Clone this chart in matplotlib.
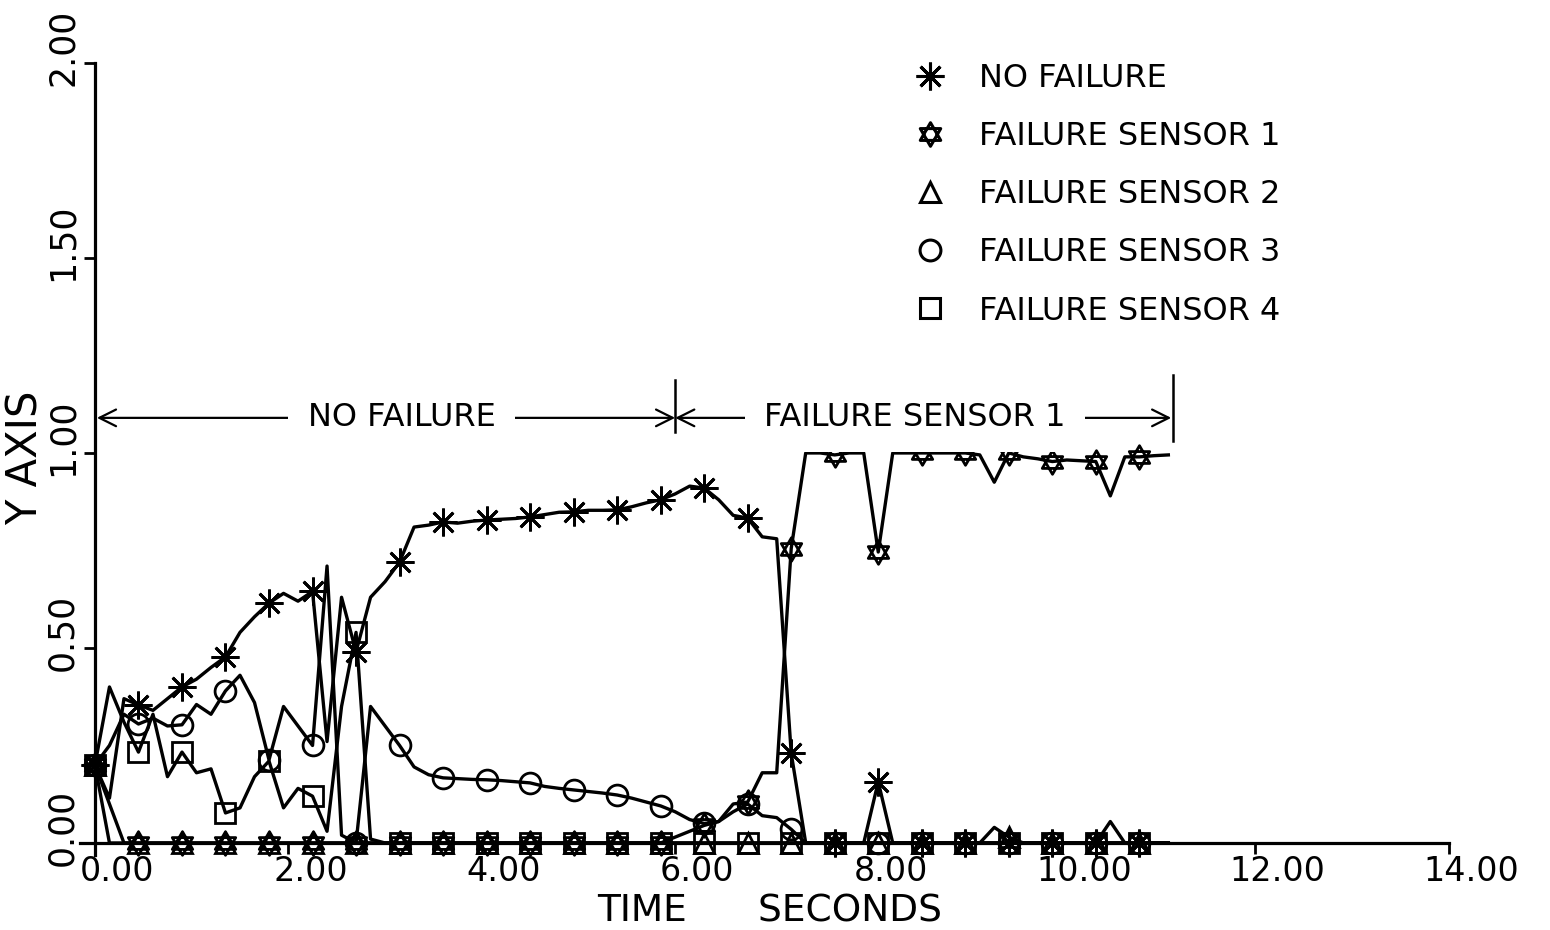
import numpy as np
import matplotlib
matplotlib.use('Agg')
import matplotlib.pyplot as plt
from matplotlib.path import Path
from matplotlib.lines import Line2D
import matplotlib.transforms as mtransforms

# sampled every 0.15 s, a marker drawn every 3rd sample
DT = 0.15

no_failure = [0.20, 0.115, 0.37, 0.354, 0.34, 0.37, 0.40, 0.42, 0.45, 0.477,
              0.54, 0.58, 0.615, 0.64, 0.62, 0.645, 0.26, 0.63, 0.49, 0.63,
              0.67, 0.72, 0.81, 0.815, 0.823, 0.82, 0.825, 0.828, 0.83, 0.832,
              0.836, 0.842, 0.848, 0.849, 0.853, 0.853, 0.854, 0.862, 0.872, 0.88,
              0.895, 0.915, 0.91, 0.88, 0.84, 0.833, 0.785, 0.78, 0.23, 0.0,
              0.0, 0.0, 0.0, 0.0, 0.157] + [0.0] * 20

sensor1 = [0.20, 0.0] + [0.0] * 38 + \
          [0.015, 0.03, 0.045, 0.055, 0.10, 0.105, 0.18, 0.18, 0.755, 1.0,
           1.0, 0.995, 1.0, 1.0, 0.746, 1.0, 1.0, 1.0, 1.0, 1.0,
           1.0, 0.995, 0.925, 1.0, 0.99, 0.985, 0.978, 0.982, 0.98, 0.978,
           0.89, 0.99, 0.99, 0.993, 0.995]

sensor2 = [0.20, 0.10] + [0.0] * 60 + [0.04, 0.015] + [0.0] * 6 + [0.055] + [0.0] * 4

sensor3 = [0.20, 0.25, 0.33, 0.305, 0.32, 0.30, 0.303, 0.355, 0.33, 0.39,
           0.43, 0.36, 0.213, 0.35, 0.30, 0.25, 0.71, 0.02, 0.0, 0.35,
           0.30, 0.25, 0.195, 0.175, 0.167, 0.165, 0.163, 0.162, 0.16, 0.157,
           0.154, 0.145, 0.14, 0.136, 0.132, 0.128, 0.123, 0.115, 0.105, 0.095,
           0.08, 0.06, 0.05, 0.055, 0.08, 0.10, 0.07, 0.065, 0.035, 0.0] + [0.0] * 25

sensor4 = [0.20, 0.40, 0.31, 0.233, 0.33, 0.17, 0.233, 0.18, 0.19, 0.077,
           0.09, 0.17, 0.21, 0.09, 0.14, 0.12, 0.03, 0.35, 0.54, 0.01,
           0.0] + [0.0] * 54

labels = ['NO FAILURE', 'FAILURE SENSOR 1', 'FAILURE SENSOR 2',
          'FAILURE SENSOR 3', 'FAILURE SENSOR 4']
xticks = [0, 2, 4, 6, 8, 10, 12, 14]
yticks = [0.0, 0.5, 1.0, 1.5, 2.0]

time = np.arange(len(no_failure)) * DT

# star of david marker
hexagram = Path([(0, 1), (-0.866, -0.5), (0.866, -0.5), (0, 1),
                 (0, -1), (-0.866, 0.5), (0.866, 0.5), (0, -1)],
                [Path.MOVETO, Path.LINETO, Path.LINETO, Path.CLOSEPOLY,
                 Path.MOVETO, Path.LINETO, Path.LINETO, Path.CLOSEPOLY])

styles = [((8, 2, 0), 20), (hexagram, 17), ('^', 14), ('o', 15), ('s', 14)]
series = [no_failure, sensor1, sensor2, sensor3, sensor4]

plt.rcParams['font.family'] = ['DejaVu Sans']

fig = plt.figure(figsize=(15.5, 9.3), dpi=100)
ax = fig.add_axes([0.0519, 0.081, 0.8828, 0.8513])

for vals, (mk, ms) in zip(series, styles):
    ax.plot(time, vals, color='black', lw=2.4, marker=mk, ms=ms,
            mfc='none', mec='black', mew=2.0, markevery=3, clip_on=False)

ax.set_xlim(-0.15, 14.0)
ax.set_ylim(-0.03, 2.0)

for s in ['top', 'right']:
    ax.spines[s].set_visible(False)
ax.spines['left'].set_position(('data', 0))
ax.spines['bottom'].set_position(('data', 0))
ax.spines['left'].set_linewidth(2.3)
ax.spines['bottom'].set_linewidth(2.3)

ax.set_xticks(xticks)
ax.set_xticklabels(['%.2f' % v for v in xticks], fontsize=24)
ax.set_yticks(yticks)
ax.set_yticklabels(['%.2f' % v for v in yticks], fontsize=25, rotation=90, va='center')
ax.tick_params(direction='out', length=8, width=2, colors='black')
ax.tick_params(axis='x', pad=1)
ax.tick_params(axis='y', pad=3)

dx = mtransforms.ScaledTranslation(0.22, 0, fig.dpi_scale_trans)
for lbl in ax.get_xticklabels():
    lbl.set_transform(lbl.get_transform() + dx)
dy = mtransforms.ScaledTranslation(0, 0.16, fig.dpi_scale_trans)
for lbl in ax.get_yticklabels():
    lbl.set_transform(lbl.get_transform() + dy)

fig.text(26 / 1550, 1 - 458 / 930, 'Y AXIS', rotation=90, ha='center', va='center', fontsize=30)
fig.text(770 / 1550, 1 - 911 / 930, 'TIME      SECONDS', ha='center', va='center', fontsize=27)

# region arrows
arr = dict(arrowstyle='<->', lw=1.6, color='black', shrinkA=0, shrinkB=0, mutation_scale=30)
ax.annotate('', xy=(0.02, 1.09), xytext=(6.0, 1.09), arrowprops=arr)
ax.annotate('', xy=(6.0, 1.09), xytext=(11.13, 1.09), arrowprops=arr)
box = dict(boxstyle='square,pad=0.6', fc='white', ec='none')
ax.text(3.17, 1.092, 'NO FAILURE', ha='center', va='center', fontsize=23, bbox=box)
ax.text(8.48, 1.092, 'FAILURE SENSOR 1', ha='center', va='center', fontsize=23, bbox=box)
ax.plot([6.0, 6.0], [1.054, 1.187], color='black', lw=1.8)
ax.plot([11.15, 11.15], [1.03, 1.20], color='black', lw=1.8)

handles = [Line2D([], [], ls='none', marker=mk, ms=ms, mfc='none', mec='black', mew=2.2)
           for mk, ms in styles]
ax.legend(handles, labels, loc='upper left', bbox_to_anchor=(914 / 1550, 1 - 63 / 930),
          bbox_transform=fig.transFigure, frameon=False, fontsize=23, handlelength=1.0,
          handletextpad=1.05, labelspacing=0.85, borderpad=0, borderaxespad=0)

fig.savefig('out.png', dpi=100)
